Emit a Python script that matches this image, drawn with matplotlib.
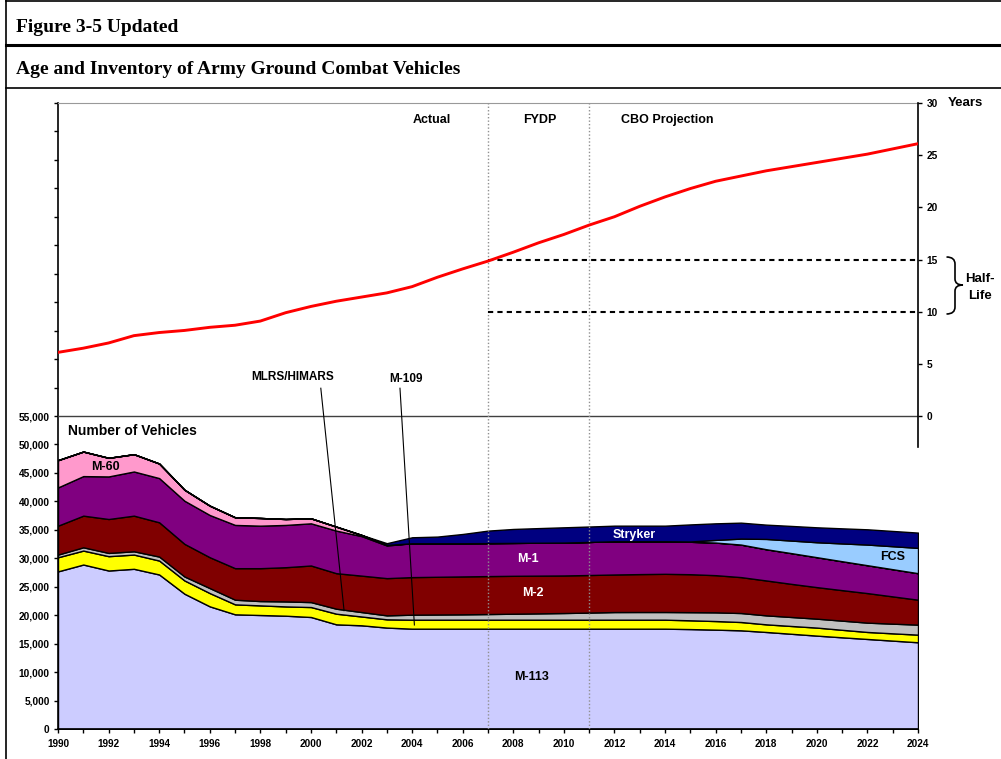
import matplotlib
matplotlib.use("Agg")
import matplotlib.pyplot as plt
from matplotlib.lines import Line2D
from matplotlib.path import Path
from matplotlib.patches import PathPatch

plt.rcParams['font.family'] = ['Liberation Sans', 'DejaVu Sans']
plt.rcParams['font.weight'] = 'bold'

years = list(range(1990, 2025))

m113 = [27700, 28900, 27850, 28150, 27150, 23770, 21550, 20150, 20030, 19910, 19680, 18390, 18220, 17820,
        17630, 17630, 17630, 17630, 17630, 17630, 17630, 17630, 17630, 17630, 17630,
        17560, 17460, 17340, 17050, 16730, 16410, 16110, 15820, 15530, 15240]
m109 = [2480, 2450, 2520, 2500, 2450, 2330, 2330, 1750, 1690, 1630, 1750, 1870, 1550, 1450,
        1580, 1580, 1580, 1580, 1580, 1580, 1580, 1580, 1580, 1580, 1580,
        1540, 1510, 1460, 1340, 1370, 1410, 1320, 1230, 1280, 1340]
mlrs = [470, 580, 570, 580, 700, 700, 880, 820, 760, 880, 870, 880, 780, 700,
        880, 910, 940, 990, 1050, 1110, 1170, 1250, 1340, 1350, 1350,
        1430, 1530, 1580, 1580, 1580, 1570, 1610, 1640, 1700, 1760]
m2 = [5080, 5560, 5960, 6260, 6020, 5730, 5420, 5540, 5780, 6010, 6430, 6240, 6400, 6540,
      6600, 6630, 6660, 6670, 6660, 6630, 6600, 6600, 6600, 6660, 6710,
      6670, 6530, 6310, 6130, 5820, 5540, 5360, 5190, 4790, 4380]
m1 = [6720, 6950, 7480, 7760, 7770, 7580, 7420, 7600, 7470, 7430, 7410, 7480, 6950, 5740,
      5950, 5890, 5830, 5800, 5780, 5780, 5780, 5810, 5840, 5770, 5720,
      5700, 5730, 5720, 5490, 5400, 5260, 5080, 4900, 4780, 4660]
m60 = [4790, 4310, 3270, 3040, 2560, 1930, 1640, 1340, 1350, 1040, 880, 700, 200, 100,
       0, 0, 0, 0, 0, 0, 0, 0, 0, 0, 0,
       0, 0, 0, 0, 0, 0, 0, 0, 0, 0]
fcs = [0] * 25 + [50, 470, 1050, 1810, 2210, 2630, 3130, 3630, 4040, 4450]
stryker = [0] * 13 + [300,
                      1050, 1170, 1630, 2190, 2450, 2570, 2680, 2710, 2740, 2740, 2740,
                      3000, 2910, 2800, 2510, 2570, 2620, 2650, 2680, 2680, 2680]

age = [6.1, 6.5, 7.0, 7.7, 8.0, 8.2, 8.5, 8.7, 9.1, 9.9, 10.5, 11.0, 11.4, 11.8,
       12.4, 13.3, 14.1, 14.85, 15.7, 16.6, 17.4, 18.3, 19.1, 20.1, 21.0,
       21.8, 22.5, 23.0, 23.5, 23.9, 24.3, 24.7, 25.1, 25.6, 26.1]

series = [m113, m109, mlrs, m2, m1, m60, fcs, stryker]
colors = ['#CCCCFF', '#FFFF00', '#C0C0C0', '#800000', '#800080', '#FF99CC', '#99CCFF', '#000080']

W, H = 1001, 759
fig = plt.figure(figsize=(W / 100, H / 100), dpi=100)


def fx(px):
    return px / W


def fy(py):
    return 1 - py / H


# frame / header
for (x0, y0, x1, y1, lw) in [(6, 1, 1001, 1, 1.2), (6, 0, 6, 759, 1.2),
                             (6, 45, 1001, 45, 2.2), (6, 88, 1001, 88, 1.2)]:
    fig.add_artist(Line2D([fx(x0), fx(x1)], [fy(y0), fy(y1)], color='black', lw=lw))
fig.text(fx(16), fy(27), 'Figure 3-5 Updated', family=['Liberation Serif'], weight='bold',
         fontsize=14, va='center', ha='left')
fig.text(fx(16), fy(69), 'Age and Inventory of Army Ground Combat Vehicles', family=['Liberation Serif'],
         weight='bold', fontsize=14, va='center', ha='left')

ax = fig.add_axes([fx(58), fy(729), fx(918) - fx(58), fy(103) - fy(729)])
ax.stackplot(years, *series, colors=colors, edgecolor='black', linewidth=1.0, zorder=2)
ax.set_xlim(1990, 2024)
ax.set_ylim(0, 110000)
ax.set_xticks(range(1990, 2025, 2))
ax.set_xticks(range(1990, 2025), minor=True)
ax.set_yticks(range(0, 110001, 5000))
ax.set_yticklabels([f'{v:,}' if v <= 55000 else '' for v in range(0, 110001, 5000)])
ax.tick_params(axis='both', which='both', direction='out', length=3, width=1, labelsize=7.2)
ax.tick_params(axis='x', pad=4)
ax.tick_params(axis='y', pad=3, labelsize=7.3)
for lab in ax.get_xticklabels() + ax.get_yticklabels():
    lab.set_fontweight('bold')
ax.spines['right'].set_visible(False)
ax.spines['top'].set_color('#999999')
ax.spines['left'].set_linewidth(1.2)
ax.spines['bottom'].set_linewidth(1.2)
ax.axhline(55000, color='#404040', lw=1.0, zorder=3)
for xv in (2007, 2011):
    ax.axvline(xv, color='#909090', lw=1.0, ls=(0, (1, 1.5)), zorder=4)

ax.text(1990.4, 52420, 'Number of Vehicles', fontsize=10, weight='bold', va='center', ha='left')
ax.text(1991.86, 46040, 'M-60', fontsize=9, weight='bold', va='center', ha='center')
ax.text(2012.77, 34090, 'Stryker', fontsize=9, weight='bold', va='center', ha='center', color='white', zorder=5)
ax.text(2008.58, 29870, 'M-1', fontsize=9, weight='bold', va='center', ha='center', color='white', zorder=5)
ax.text(2008.77, 23950, 'M-2', fontsize=9, weight='bold', va='center', ha='center', color='white', zorder=5)
ax.text(2008.73, 9190, 'M-113', fontsize=9, weight='bold', va='center', ha='center', zorder=5)
ax.text(2023.01, 30270, 'FCS', fontsize=9, weight='bold', va='center', ha='center', zorder=5)
ax.text(1999.29, 61860, 'MLRS/HIMARS', fontsize=8.5, weight='bold', va='center', ha='center')
ax.text(2003.75, 61460, 'M-109', fontsize=8.5, weight='bold', va='center', ha='center')
ax.plot([2000.39, 2001.31], [59880, 20790], color='black', lw=0.8, zorder=6)
ax.plot([2003.52, 2004.09], [59880, 18280], color='black', lw=0.8, zorder=6)

ax2 = ax.twinx()
ax2.set_ylim(-30, 30)
ax2.plot(years, age, color='#FF0000', lw=2.1, zorder=5)
ax2.hlines([15, 10], 2007, 2024, colors='black', lw=1.5, linestyles=[(0, (2.5, 2))])
ax2.set_yticks(range(0, 31, 5))
ax2.tick_params(axis='y', direction='out', length=3, width=1, labelsize=7.3, pad=3)
for lab in ax2.get_yticklabels():
    lab.set_fontweight('bold')
for s in ('left', 'top', 'bottom'):
    ax2.spines[s].set_visible(False)
ax2.spines['right'].set_bounds(-3, 30)
ax2.spines['right'].set_linewidth(1.2)

ax2.text(2004.79, 28.4, 'Actual', fontsize=9, weight='bold', va='center', ha='center')
ax2.text(2009.06, 28.4, 'FYDP', fontsize=9, weight='bold', va='center', ha='center')
ax2.text(2014.1, 28.4, 'CBO Projection', fontsize=9, weight='bold', va='center', ha='center')

fig.text(fx(948), fy(103), 'Years', fontsize=9.5, weight='bold', va='center', ha='left')
fig.text(fx(980), fy(279), 'Half-', fontsize=9.5, weight='bold', va='center', ha='center')
fig.text(fx(980), fy(296), 'Life', fontsize=9.5, weight='bold', va='center', ha='center')

# brace
codes = [Path.MOVETO,
         Path.CURVE3, Path.CURVE3,
         Path.LINETO,
         Path.CURVE3, Path.CURVE3,
         Path.CURVE3, Path.CURVE3,
         Path.LINETO,
         Path.CURVE3, Path.CURVE3]
pts2 = [(946.5, 257), (955, 257), (955, 264),
        (955, 279),
        (955, 285), (963, 285),
        (955, 285), (955, 291),
        (955, 307),
        (955, 314), (946.5, 314)]
path = Path([(fx(a), fy(b)) for a, b in pts2], codes)
fig.add_artist(PathPatch(path, facecolor='none', edgecolor='black', lw=1.2, transform=fig.transFigure))

fig.savefig('out.png', dpi=100)
